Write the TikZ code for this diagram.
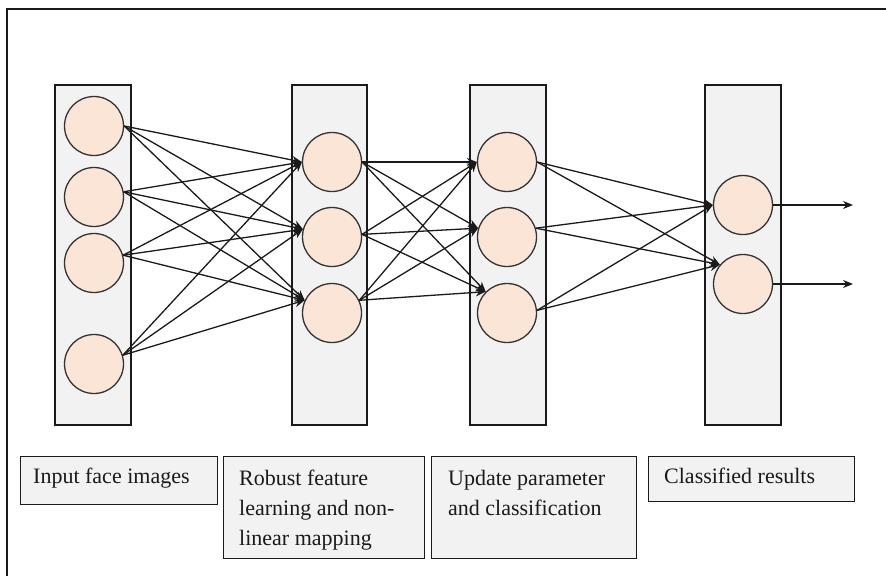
\documentclass[tikz,border=0pt]{standalone}
\usepackage{fontspec}
\setmainfont{Liberation Serif}
\usetikzlibrary{arrows.meta}
\definecolor{boxgray}{HTML}{F2F2F2}
\definecolor{peach}{HTML}{FBE5D6}
\definecolor{ink}{HTML}{1A1A1A}
\begin{document}
\begin{tikzpicture}[x=1pt,y=-1pt,
  col/.style={draw=ink, fill=boxgray, line width=1.3pt, inner sep=0pt, minimum width=76pt, minimum height=340pt},
  neuron/.style={circle, draw=black!80, fill=peach, line width=1.3pt, minimum size=59pt, inner sep=0pt},
  link/.style={draw=ink, line width=1.3pt, -{Stealth[length=10pt,width=8pt]}},
  capbox/.style={draw=ink, fill=boxgray, line width=1.3pt, inner sep=0pt},
  lbl/.style={anchor=base west, inner sep=0pt, text=ink, font=\fontsize{22}{30}\selectfont, align=left},
]
\useasboundingbox (0,0) rectangle (886,576);
% frame
\draw[draw=ink, line width=1.3pt] (7,576) -- (7,9) -- (886,9);

% columns
\node[col] (L1) at (93,255) {};
\node[col, minimum width=75pt] (L2) at (329.5,255) {};
\node[col] (L3) at (508,255) {};
\node[col] (L4) at (743,255) {};

% neurons
\node[neuron] (a1) at (94,126) {};
\node[neuron] (a2) at (94,197) {};
\node[neuron] (a3) at (94,263) {};
\node[neuron] (a4) at (94,364) {};
\node[neuron] (b1) at (332,162) {};
\node[neuron] (b2) at (332,237) {};
\node[neuron] (b3) at (332,313) {};
\node[neuron] (c1) at (507,162) {};
\node[neuron] (c2) at (507,237) {};
\node[neuron] (c3) at (507,313) {};
\node[neuron] (d1) at (743,205) {};
\node[neuron] (d2) at (743,284) {};

% layer 1 -> 2
\foreach \s/\sa in {a1/0,a2/10,a3/15,a4/17}
  \foreach \t/\ta in {b1/180,b2/165,b3/155}
    \draw[link] (\s.\sa) -- (\t.\ta);
% layer 2 -> 3
\foreach \s/\sa in {b1/0,b2/5,b3/25}
  \foreach \t/\ta in {c1/180,c2/163,c3/135}
    \draw[link] (\s.\sa) -- (\t.\ta);
% layer 3 -> 4
\foreach \s/\sa in {c1/0,c2/17,c3/5}
  \foreach \t/\ta in {d1/180,d2/140}
    \draw[link] (\s.\sa) -- (\t.\ta);
% outputs
\coordinate (o1) at (853,205);
\coordinate (o2) at (853,284);
\draw[link] (d1.east) -- (o1);
\draw[link] (d2.east) -- (o2);

% caption boxes
\node[capbox, minimum width=197pt, minimum height=48pt, anchor=north west] (k1) at (20,456) {};
\node[capbox, minimum width=201pt, minimum height=102pt, anchor=north west] (k2) at (223,456) {};
\node[capbox, minimum width=205pt, minimum height=102pt, anchor=north west] (k3) at (431,456) {};
\node[capbox, minimum width=206pt, minimum height=45pt, anchor=north west] (k4) at (648,456) {};

% labels (base anchor = baseline of last line)
\node[lbl] (t1) at (33,483) {Input face images};
\node[lbl] (t2) at (239,545) {Robust feature\\learning and non-\\linear mapping};
\node[lbl] (t3) at (448,515) {Update parameter\\and classification};
\node[lbl] (t4) at (664,483) {Classified results};
\end{tikzpicture}
\end{document}
